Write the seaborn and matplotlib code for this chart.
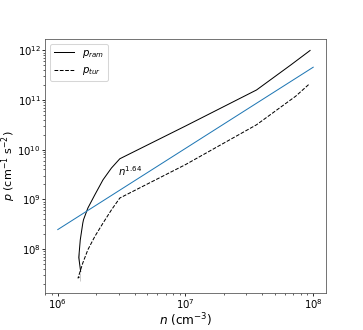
import numpy as np
import pandas as pd
import seaborn as sns
import matplotlib
matplotlib.use("Agg")
import matplotlib.pyplot as plt

# ram pressure curve (solid), drawn from the low end upward
n_ram = [1.51e6, 1.46e6, 1.46e6, 1.50e6, 1.57e6, 1.59e6, 1.72e6, 1.95e6, 2.26e6, 2.63e6,
         3.06e6, 1.0e7, 3.6e7, 6.67e7, 9.45e7]
p_ram = [3.5e7, 5.2e7, 8.2e7, 1.52e8, 3.31e8, 3.87e8, 6.65e8, 1.23e9, 2.47e9, 4.26e9,
         6.56e9, 3.0e10, 1.6e11, 5.1e11, 1.0e12]

# turbulent pressure curve (dashed)
n_tur = [1.48e6, 1.44e6, 1.48e6, 1.57e6, 1.72e6, 1.95e6, 2.26e6, 2.63e6,
         3.06e6, 1.0e7, 3.6e7, 7.3e7, 9.3e7]
p_tur = [2.2e7, 2.58e7, 3.25e7, 5.2e7, 9.6e7, 1.78e8, 3.31e8, 6.1e8,
         1.06e9, 5.0e9, 3.18e10, 1.2e11, 2.1e11]

# power-law fit n^1.64
n_fit = [1e6, 1e8]
p_fit = [2.45e8, 4.6e11]

DPI = 72.6
fig = plt.figure(figsize=(363 / DPI, 330 / DPI), dpi=DPI)
ax = fig.add_axes([0.124, 0.112, 0.774, 0.770])

sns.lineplot(x=n_ram, y=p_ram, sort=False, color="k", lw=1, label="$p_{ram}$", ax=ax)
sns.lineplot(x=n_tur, y=p_tur, sort=False, color="k", lw=1, ls="--", label="$p_{tur}$", ax=ax)
sns.lineplot(x=n_fit, y=p_fit, sort=False, color="#1f77b4", lw=1, ax=ax)

ax.set_xscale("log")
ax.set_yscale("log")
ax.text(2.95e6, 2.9e9, "$n^{1.64}$", fontsize=10, ha="left", va="baseline")

ax.set_xlabel("$n$ (cm$^{-3}$)", fontsize=12, labelpad=1)
ax.set_ylabel("$p$ (cm$^{-1}$ s$^{-2}$)", fontsize=11)
ax.yaxis.set_label_coords(-0.097, 0.5)
ax.tick_params(which="major", labelsize=10, length=2.5, pad=1.5)
ax.tick_params(which="minor", length=1.5)
for s in ax.spines.values():
    s.set_color("#555555")
ax.legend(loc="upper left", fontsize=10)

fig.savefig("out.png", dpi=DPI)
